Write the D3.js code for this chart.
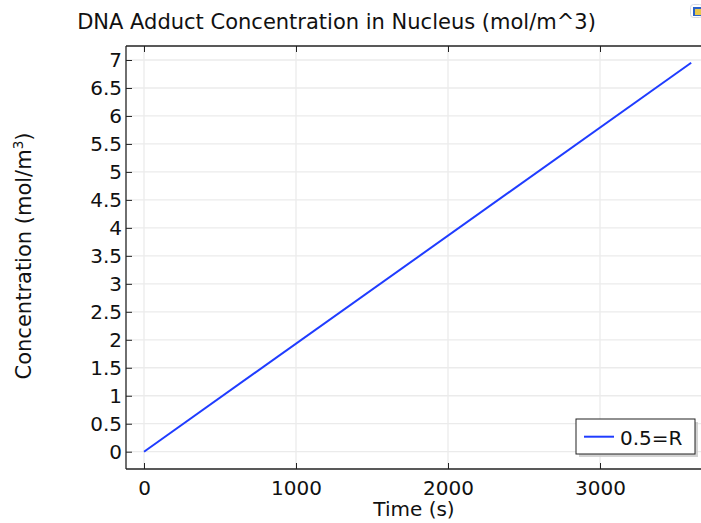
<!DOCTYPE html>
<html>
<head>
<meta charset="utf-8">
<script src="https://cdn.jsdelivr.net/npm/d3@7"></script>
<style>
  html, body { margin: 0; padding: 0; background: #fff; }
  svg { display: block; font-family: "DejaVu Sans", sans-serif; }
</style>
</head>
<body>
<svg id="chart" width="701" height="523"></svg>
<script>
// Time series for the nucleus adduct concentration
const timeValues = [0, 3600];
const concentrationValues = [0, 6.95];
const xTicks = [0, 1000, 2000, 3000];
const yTicks = [0, 0.5, 1, 1.5, 2, 2.5, 3, 3.5, 4, 4.5, 5, 5.5, 6, 6.5, 7];
const seriesName = "0.5=R";

const svg = d3.select("#chart");
const W = 701, H = 523;

// Plot frame (extends past the right edge of the view)
const frame = { left: 126, top: 46, right: 760, bottom: 469 };

const x = d3.scaleLinear().domain([0, 1000]).range([144, 296]);
const y = d3.scaleLinear().domain([0, 7]).range([451.7, 60]);

svg.append("defs").append("clipPath").attr("id", "plotclip")
  .append("rect").attr("x", frame.left).attr("y", frame.top)
  .attr("width", frame.right - frame.left).attr("height", frame.bottom - frame.top);

const plot = svg.append("g").attr("clip-path", "url(#plotclip)");

// Grid
plot.append("g").selectAll("line").data(xTicks).join("line")
  .attr("x1", d => x(d)).attr("x2", d => x(d))
  .attr("y1", frame.top).attr("y2", frame.bottom)
  .attr("stroke", "#ebebeb").attr("stroke-width", 1.3);
plot.append("g").selectAll("line").data(yTicks).join("line")
  .attr("x1", frame.left).attr("x2", frame.right)
  .attr("y1", d => y(d)).attr("y2", d => y(d))
  .attr("stroke", "#ebebeb").attr("stroke-width", 1.3);

// Data line
const pts = timeValues.map((t, i) => [t, concentrationValues[i]]);
plot.append("path").datum(pts)
  .attr("fill", "none").attr("stroke", "#1f3cff").attr("stroke-width", 2)
  .attr("d", d3.line().x(d => x(d[0])).y(d => y(d[1])));

// Axes (ticks pointing inward)
const axisColor = "#222";
const fmt = d => String(d);
const bottomAxis = svg.append("g").attr("transform", `translate(0,${frame.bottom})`)
  .call(d3.axisBottom(x).tickValues(xTicks).tickSize(-6).tickSizeOuter(0).tickPadding(12).tickFormat(fmt));
const topAxis = svg.append("g").attr("transform", `translate(0,${frame.top})`)
  .call(d3.axisTop(x).tickValues(xTicks).tickSize(-6).tickSizeOuter(0).tickFormat(""));
const leftAxis = svg.append("g").attr("transform", `translate(${frame.left},0)`)
  .call(d3.axisLeft(y).tickValues(yTicks).tickSize(-6).tickSizeOuter(0).tickPadding(4).tickFormat(fmt));

[bottomAxis, topAxis, leftAxis].forEach(g => {
  g.select(".domain").remove();
  g.selectAll(".tick line").attr("stroke", axisColor).attr("stroke-width", 1);
  g.selectAll("text").attr("fill", "#111").style("font-size", "20px")
    .style("font-family", "DejaVu Sans, sans-serif");
});

// Frame borders
svg.append("line").attr("x1", frame.left).attr("x2", W).attr("y1", frame.top).attr("y2", frame.top)
  .attr("stroke", axisColor).attr("stroke-width", 1.3);
svg.append("line").attr("x1", frame.left).attr("x2", W).attr("y1", frame.bottom).attr("y2", frame.bottom)
  .attr("stroke", axisColor).attr("stroke-width", 1.3);
svg.append("line").attr("x1", frame.left).attr("x2", frame.left).attr("y1", frame.top).attr("y2", frame.bottom)
  .attr("stroke", axisColor).attr("stroke-width", 1.3);

// Title
svg.append("text").attr("x", 336.5).attr("y", 28.5).attr("text-anchor", "middle")
  .style("font-size", "21px").attr("fill", "#111")
  .text("DNA Adduct Concentration in Nucleus (mol/m^3)");

// Axis labels
svg.append("text").attr("x", 414).attr("y", 516).attr("text-anchor", "middle")
  .style("font-size", "20px").attr("fill", "#111").text("Time (s)");

const yl = svg.append("text").attr("transform", "translate(31,256) rotate(-90)")
  .attr("text-anchor", "middle").style("font-size", "21px").attr("fill", "#111");
yl.append("tspan").text("Concentration (mol/m");
yl.append("tspan").attr("dy", -8).style("font-size", "13.5px").text("3");
yl.append("tspan").attr("dy", 8).text(")");

// Legend
const lg = svg.append("g");
lg.append("rect").attr("x", 579).attr("y", 422).attr("width", 119).attr("height", 35)
  .attr("fill", "#c8c8c8").attr("opacity", 0.8);
lg.append("rect").attr("x", 576).attr("y", 419).attr("width", 119).attr("height", 35)
  .attr("fill", "#fff").attr("stroke", "#222").attr("stroke-width", 1);
lg.append("line").attr("x1", 584).attr("x2", 614).attr("y1", 436.7).attr("y2", 436.7)
  .attr("stroke", "#1f3cff").attr("stroke-width", 2);
lg.append("text").attr("x", 620).attr("y", 445).style("font-size", "20px")
  .attr("fill", "#111").text(seriesName);

// Small window icon in the corner
const ic = svg.append("g");
ic.append("rect").attr("x", 690.5).attr("y", 4.5).attr("width", 12).attr("height", 13).attr("rx", 3)
  .attr("fill", "none").attr("stroke", "#d6dbe6");
ic.append("rect").attr("x", 693).attr("y", 7).attr("width", 8).attr("height", 9)
  .attr("fill", "#2a62c9");
ic.append("rect").attr("x", 695).attr("y", 9).attr("width", 6).attr("height", 6)
  .attr("fill", "#e8c84a");
</script>
</body>
</html>
